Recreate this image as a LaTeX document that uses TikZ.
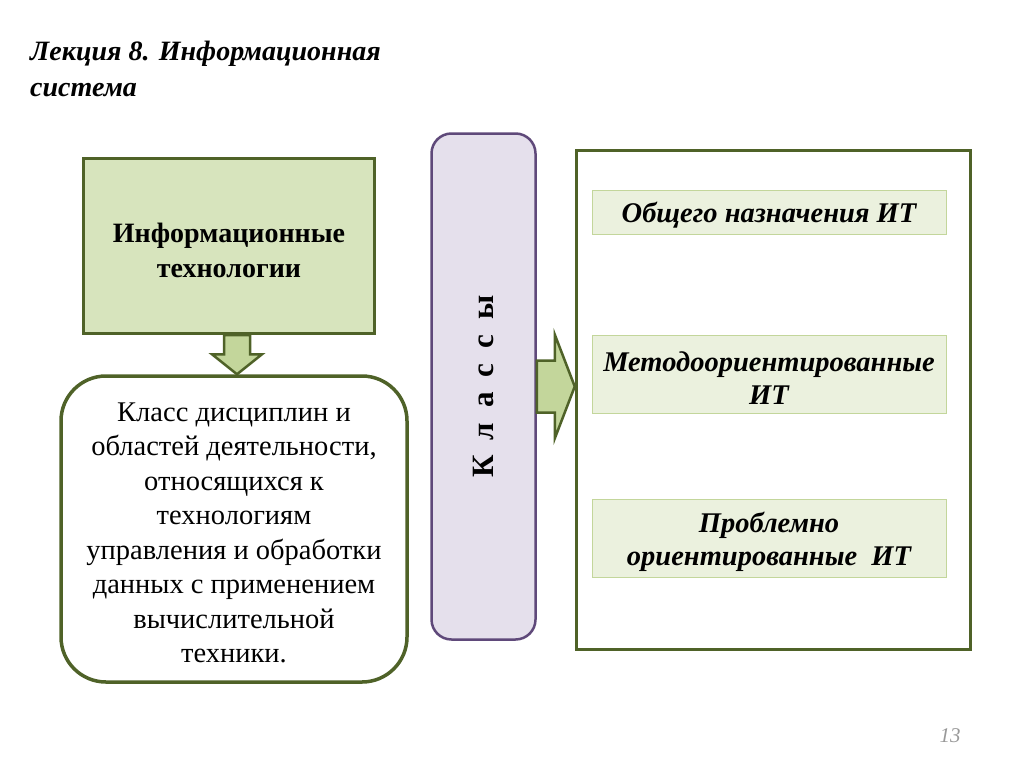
\documentclass[tikz,border=0pt]{standalone}
\usepackage{fontspec}
\setmainfont{Liberation Serif}
\usetikzlibrary{calc,positioning}
\definecolor{darkolive}{HTML}{4F6228}
\definecolor{boxgreen}{HTML}{D7E4BD}
\definecolor{arrowgreen}{HTML}{C3D69B}
\definecolor{palegreen}{HTML}{EBF1DE}
\definecolor{lavender}{HTML}{E5E0EC}
\definecolor{darkpurple}{HTML}{5F497A}
\tikzset{
    itbox/.style={draw=darkolive, line width=3pt, fill=boxgreen, minimum width=291pt, minimum height=175pt, align=center, font=\fontsize{28}{35}\selectfont\bfseries},
    defbox/.style={draw=darkolive, line width=3.5pt, fill=white, rounded corners=45pt, minimum width=346pt, minimum height=306pt, align=center, font=\fontsize{28.5}{34.5}\selectfont},
    classbox/.style={draw=darkpurple, line width=2.5pt, fill=lavender, rounded corners=20pt, minimum width=104pt, minimum height=506pt},
    groupbox/.style={draw=darkolive, line width=3.5pt, fill=white, minimum width=394pt, minimum height=499pt},
    kindbox/.style={draw=arrowgreen, line width=1pt, fill=palegreen, minimum width=354pt, align=center, text depth=0pt, font=\fontsize{28.5}{33}\selectfont\bfseries\itshape},
    blockarrow/.style={draw=darkolive, line width=2.5pt, fill=arrowgreen, line join=miter}
}
\begin{document}
\begin{tikzpicture}[x=1pt, y=-1pt]
    \useasboundingbox (0,0) rectangle (1024,768);
    % title
    \node[anchor=north west, align=left, inner sep=0pt, font=\fontsize{28}{36}\selectfont\bfseries\itshape] (title) at (30,41) {Лекция 8. Информационная\\система};

    % left column
    \node[itbox] (it) at (229,246) {\rule{0pt}{27.5pt}Информационные\\технологии};
    \node[defbox] (def) at (234,529) {\rule{0pt}{26pt}Класс дисциплин и\\областей деятельности,\\относящихся к\\технологиям\\управления и обработки\\данных с применением\\вычислительной\\техники.};

    % classes
    \node[classbox] (cls) at (483.5,386.5) {};
    \node[rotate=90, font=\fontsize{31}{36}\selectfont\bfseries] (clslabel) at (cls.center) {К\hspace{15pt}л\hspace{15pt}а\hspace{15pt}с\hspace{15pt}с\hspace{15pt}ы};

    % right column
    \node[groupbox] (grp) at (773.5,400) {};
    \node[kindbox, minimum height=44pt] (general) at (769,212) {Общего назначения ИТ};
    \node[kindbox, minimum height=78pt] (method) at (769,374) {\rule{0pt}{28pt}Методоориентированные\\ИТ};
    \node[kindbox, minimum height=78pt] (problem) at (769,538) {\rule{0pt}{22pt}Проблемно\\ориентированные~~ИТ};

    % arrows
    \coordinate (dtip) at ($(def.north)+(3,0)$);
    \coordinate (dl) at ($(dtip)+(-13,0)$);
    \coordinate (dr) at ($(dtip)+(13,0)$);
    \draw[blockarrow] (dtip) -- ++(-25,-20) -- ++(12,0) -- (dl |- it.south)
        -- (dr |- it.south) -- ($(dr)+(0,-20)$) -- ++(12,0) -- cycle;
    \coordinate (rtip) at (grp.west |- cls.east);
    \draw[blockarrow] (rtip) -- ++(-20,-52) -- ++(0,26) -- ($(cls.east)+(0,-26)$)
        -- ($(cls.east)+(0,26)$) -- ($(rtip)+(-20,26)$) -- ++(0,26) -- cycle;

    % page number
    \node[text=gray!80, font=\fontsize{21}{24}\selectfont\itshape] (page) at (950,736) {13};
\end{tikzpicture}
\end{document}
